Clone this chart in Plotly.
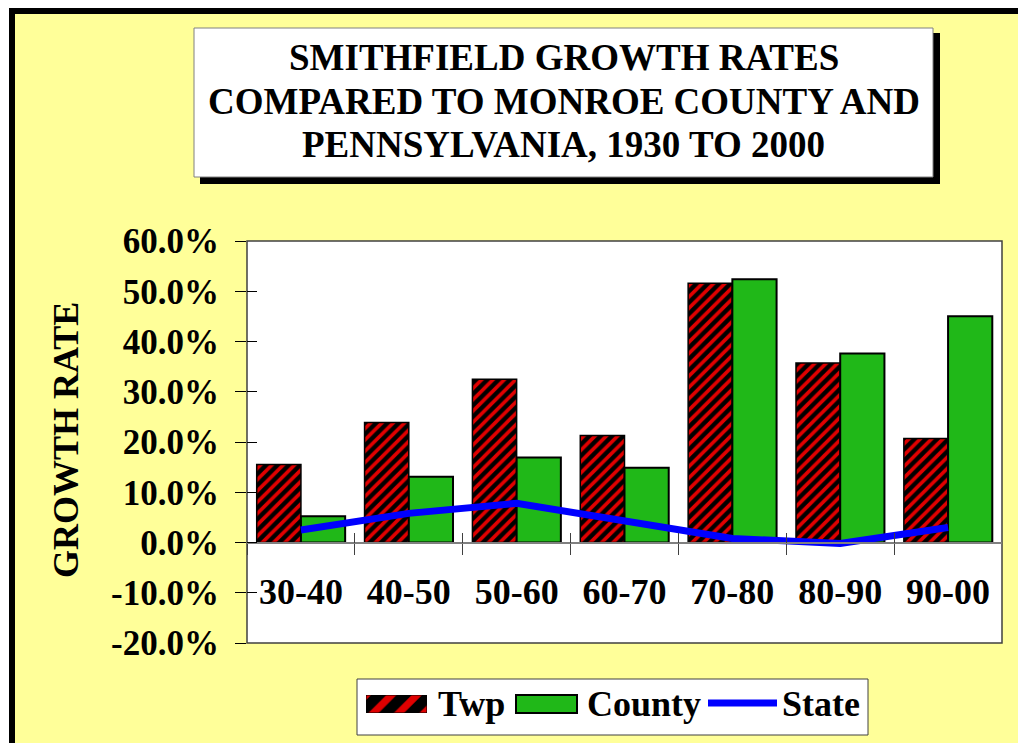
import plotly.graph_objects as go

# ---------------- data ----------------
categories = ["30-40", "40-50", "50-60", "60-70", "70-80", "80-90", "90-00"]
twp = [15.5, 23.9, 32.5, 21.3, 51.6, 35.7, 20.7]
county = [5.2, 13.1, 16.9, 14.9, 52.4, 37.6, 45.0]
state = [2.5, 5.8, 7.8, 4.3, 0.8, -0.2, 3.0]
series_names = ["Twp", "County", "State"]
y_range = [-20, 60]
y_tick_vals = [-20, -10, 0, 10, 20, 30, 40, 50, 60]
y_tick_text = [f"{v:.1f}%" for v in y_tick_vals]
title_lines = ["SMITHFIELD GROWTH RATES",
               "COMPARED TO MONROE COUNTY AND",
               "PENNSYLVANIA, 1930 TO 2000"]
y_title = "GROWTH RATE"

# ---------------- style ----------------
W, H = 1018, 743
RED = "#E00000"
GREEN = "#20B818"
BLUE = "#0000FF"
YELLOW = "#FFFF99"
FONT = "Liberation Serif"


def px(x):
    return x / W


def py(y):
    return 1 - y / H


PL, PR, PT, PB = 247, 1002, 241, 643
x_dom = [px(PL), px(PR)]
y_dom = [py(PB), py(PT)]
zero_pos = y_dom[0] + (0 - y_range[0]) / (y_range[1] - y_range[0]) * (y_dom[1] - y_dom[0])

fig = go.Figure()

fig.add_trace(go.Bar(
    name=series_names[0], x=categories, y=twp,
    marker=dict(color="black", line=dict(color="black", width=1.5),
                pattern=dict(shape="/", bgcolor="black", fgcolor=RED,
                             size=8, solidity=0.45, fillmode="replace")),
    showlegend=False))
fig.add_trace(go.Bar(
    name=series_names[1], x=categories, y=county,
    marker=dict(color=GREEN, line=dict(color="black", width=2)),
    showlegend=False))
fig.add_trace(go.Scatter(
    name=series_names[2], x=categories, y=state, mode="lines",
    line=dict(color=BLUE, width=7), showlegend=False))

# invisible trace to activate overlay axes (cross ticks)
fig.add_trace(go.Scatter(
    x=categories, y=state, xaxis="x2", yaxis="y2", mode="markers",
    marker=dict(opacity=0), hoverinfo="skip", showlegend=False))

# legend swatch for hatched series
fig.add_trace(go.Bar(
    x=[series_names[0]], y=[1], xaxis="x3", yaxis="y3", width=[1],
    marker=dict(color="black", line=dict(color="black", width=1),
                pattern=dict(shape="/", bgcolor="black", fgcolor=RED,
                             size=18, solidity=0.4, fillmode="replace")),
    hoverinfo="skip", showlegend=False))

tick_font = dict(family=FONT, size=35, color="black", weight="bold")

fig.update_layout(
    width=W, height=H,
    margin=dict(l=0, r=0, t=0, b=0, pad=0, autoexpand=False),
    paper_bgcolor="white",
    plot_bgcolor="rgba(0,0,0,0)",
    barmode="group", bargap=0.18, bargroupgap=0,
    showlegend=False,
    xaxis=dict(domain=x_dom, anchor="free", position=zero_pos,
               categoryorder="array", categoryarray=categories,
               showline=True, linecolor="#808080", linewidth=2,
               ticks="outside", ticklen=11, tickcolor="#404040", tickwidth=1,
               tickson="boundaries", showgrid=False, zeroline=False,
               tickfont=dict(family=FONT, size=36, color="black", weight="bold"),
               ticklabelstandoff=17, automargin=False),
    yaxis=dict(domain=y_dom, range=y_range,
               tickmode="array", tickvals=y_tick_vals, ticktext=y_tick_text,
               showline=False, showgrid=False, zeroline=False,
               ticks="outside", ticklen=11, tickcolor="black", tickwidth=1,
               tickfont=tick_font, ticklabelstandoff=9, automargin=False),
    xaxis2=dict(overlaying="x", matches="x", anchor="free", position=zero_pos,
                categoryorder="array", categoryarray=categories,
                showline=False, ticks="inside", ticklen=10, tickcolor="#404040",
                tickwidth=1, tickson="boundaries", showticklabels=False,
                showgrid=False, zeroline=False, automargin=False),
    yaxis2=dict(overlaying="y", matches="y", anchor="x", side="left",
                ticks="inside", ticklen=10, tickcolor="black", tickwidth=1,
                tickmode="array", tickvals=y_tick_vals, showticklabels=False,
                showgrid=False, zeroline=False, showline=False, automargin=False),
    xaxis3=dict(domain=[px(366), px(427)], anchor="y3", range=[-0.5, 0.5],
                visible=False, fixedrange=True, automargin=False),
    yaxis3=dict(domain=[py(713), py(695)], anchor="x3", range=[0, 1],
                visible=False, fixedrange=True, automargin=False),
)

shapes = [
    # outer black frame (top/left)
    dict(type="rect", xref="paper", yref="paper", x0=px(9), x1=1,
         y0=py(8), y1=0, fillcolor="black", line=dict(width=0)),
    dict(type="rect", xref="paper", yref="paper", x0=px(15), x1=1,
         y0=py(14), y1=0, fillcolor=YELLOW, line=dict(width=0)),
    # title box with shadow
    dict(type="rect", xref="paper", yref="paper", x0=px(200), x1=px(940),
         y0=py(33), y1=py(184), fillcolor="black", line=dict(width=0)),
    dict(type="rect", xref="paper", yref="paper", x0=px(194), x1=px(933),
         y0=py(28), y1=py(177), fillcolor="white",
         line=dict(color="#808080", width=1)),
    # plot area
    dict(type="rect", xref="paper", yref="paper", x0=x_dom[0], x1=x_dom[1],
         y0=y_dom[0], y1=y_dom[1], fillcolor="white",
         line=dict(color="#404040", width=1.5)),
    # legend box
    dict(type="rect", xref="paper", yref="paper", x0=px(357), x1=px(868),
         y0=py(679), y1=py(735), fillcolor="white",
         line=dict(color="#404040", width=1)),
    # county swatch
    dict(type="rect", xref="paper", yref="paper", x0=px(516), x1=px(577),
         y0=py(695), y1=py(713), fillcolor=GREEN,
         line=dict(color="black", width=2)),
    # state swatch
    dict(type="line", xref="paper", yref="paper", x0=px(708), x1=px(777),
         y0=py(703), y1=py(703), line=dict(color=BLUE, width=7)),
]
for s in shapes:
    s["layer"] = "below"
fig.update_layout(shapes=shapes)

annotations = []
for line, yc in zip(title_lines, [58, 102, 144]):
    annotations.append(dict(text=line, xref="paper", yref="paper",
                            x=px(563.5), y=py(yc), xanchor="center", yanchor="middle",
                            showarrow=False,
                            font=dict(family=FONT, size=37, color="black", weight="bold")))
annotations.append(dict(text=y_title, xref="paper", yref="paper", x=px(66), y=py(440),
                        xanchor="center", yanchor="middle", textangle=-90, showarrow=False,
                        font=dict(family=FONT, size=36, color="black", weight="bold")))
for name, xl in zip(series_names, [436, 585, 780]):
    annotations.append(dict(text=name, xref="paper", yref="paper", x=px(xl), y=py(704),
                            xanchor="left", yanchor="middle", showarrow=False,
                            font=dict(family=FONT, size=36, color="black", weight="bold")))
fig.update_layout(annotations=annotations)

fig.write_html("out.html", config={"displayModeBar": False},
               post_script="document.body.style.margin='0';document.body.style.overflow='hidden';")
